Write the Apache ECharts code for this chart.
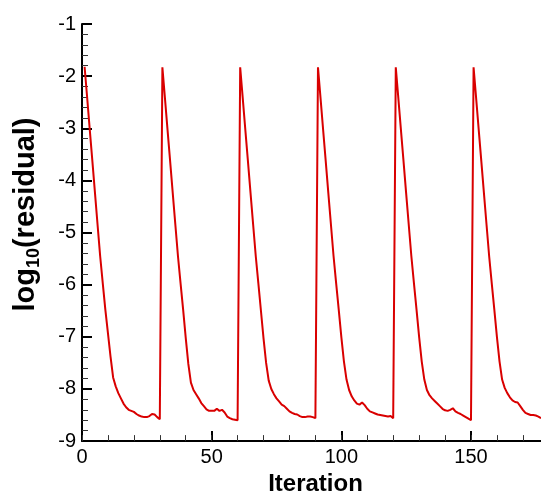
<!DOCTYPE html>
<html>
<head>
<meta charset="utf-8">
<script src="https://cdn.jsdelivr.net/npm/echarts@6/dist/echarts.min.js"></script>
<style>
html,body{margin:0;padding:0;background:#fff;}
#chart{width:541px;height:501px;}
</style>
</head>
<body>
<div id="chart"></div>
<script>
// First iteration of the recorded residual history
var firstIteration = 1;
// log10(residual) per iteration, six restart cycles of 30 iterations
var cycle1 = [-1.82,-2.42,-3.03,-3.63,-4.24,-4.85,-5.45,-5.97,-6.48,-6.93,
              -7.38,-7.78,-7.95,-8.08,-8.18,-8.28,-8.35,-8.40,-8.42,-8.44,
              -8.48,-8.51,-8.53,-8.54,-8.54,-8.52,-8.48,-8.49,-8.54,-8.58];
var cycle2 = [-1.83,-2.43,-3.04,-3.64,-4.25,-4.85,-5.45,-5.97,-6.48,-7.02,
              -7.52,-7.88,-8.02,-8.10,-8.18,-8.27,-8.33,-8.39,-8.42,-8.42,
              -8.42,-8.38,-8.42,-8.40,-8.45,-8.53,-8.56,-8.58,-8.59,-8.60];
var cycle3 = [-1.83,-2.43,-3.04,-3.64,-4.25,-4.85,-5.45,-5.97,-6.50,-7.03,
              -7.50,-7.84,-8.00,-8.10,-8.18,-8.24,-8.30,-8.33,-8.38,-8.43,
              -8.46,-8.48,-8.49,-8.52,-8.54,-8.54,-8.53,-8.53,-8.54,-8.56];
var cycle4 = [-1.83,-2.43,-3.04,-3.64,-4.25,-4.85,-5.45,-5.97,-6.48,-7.00,
              -7.47,-7.82,-8.02,-8.14,-8.22,-8.28,-8.30,-8.26,-8.31,-8.38,
              -8.43,-8.45,-8.47,-8.49,-8.50,-8.51,-8.52,-8.53,-8.52,-8.56];
var cycle5 = [-1.83,-2.43,-3.04,-3.64,-4.25,-4.85,-5.45,-5.97,-6.48,-7.00,
              -7.47,-7.82,-8.02,-8.12,-8.18,-8.23,-8.28,-8.33,-8.38,-8.41,
              -8.42,-8.40,-8.37,-8.43,-8.46,-8.48,-8.51,-8.54,-8.57,-8.60];
var cycle6 = [-1.83,-2.43,-3.04,-3.64,-4.25,-4.85,-5.45,-5.97,-6.48,-7.00,
              -7.47,-7.82,-7.98,-8.08,-8.16,-8.22,-8.25,-8.26,-8.33,-8.40,
              -8.46,-8.48,-8.50,-8.50,-8.51,-8.53,-8.56];

var xTitle = 'Iteration';
var yTitleParts = ['log', '10', '(residual)'];

var residual = [].concat(cycle1, cycle2, cycle3, cycle4, cycle5, cycle6);
var seriesData = residual.map(function (v, i) { return [firstIteration + i, v]; });

var chart = echarts.init(document.getElementById('chart'), null, {renderer: 'canvas'});
var axisFont = 'Liberation Sans, Arial, Helvetica, sans-serif';
var xMax = 177;

chart.setOption({
  animation: false,
  backgroundColor: '#ffffff',
  grid: {left: 82, right: 0, top: 24, bottom: 50, containLabel: false},
  xAxis: [{
    type: 'value',
    min: 0, max: xMax, interval: 50,
    name: xTitle,
    nameLocation: 'middle',
    nameGap: 26,
    nameTextStyle: {fontFamily: axisFont, fontSize: 24, fontWeight: 'bold', color: '#000', padding: [0, 0, 0, 8]},
    axisLine: {show: true, onZero: false, lineStyle: {color: '#000', width: 2}},
    axisTick: {show: true, inside: true, length: 10, lineStyle: {color: '#000', width: 2}},
    minorTick: {show: false},
    axisLabel: {fontFamily: axisFont, fontSize: 20, color: '#000', margin: 6, showMaxLabel: false},
    splitLine: {show: false}
  }, {
    type: 'value',
    position: 'bottom',
    min: 0, max: xMax, interval: 10,
    axisLine: {show: false, onZero: false},
    axisTick: {show: true, inside: true, length: 6, lineStyle: {color: '#333', width: 1}},
    axisLabel: {show: false},
    splitLine: {show: false}
  }],
  yAxis: {
    type: 'value',
    min: -9, max: -1, interval: 1,
    name: '{m|' + yTitleParts[0] + '}{s|' + yTitleParts[1] + '}{m|' + yTitleParts[2] + '}',
    nameLocation: 'middle',
    nameGap: 39,
    nameRotate: 90,
    nameTextStyle: {
      fontFamily: axisFont, fontSize: 29, fontWeight: 'bold', color: '#000',
      padding: [0, 0, 0, 36],
      rich: {
        m: {fontFamily: axisFont, fontSize: 29, fontWeight: 'bold', color: '#000', lineHeight: 32, verticalAlign: 'middle'},
        s: {fontFamily: axisFont, fontSize: 18, fontWeight: 'bold', color: '#000', lineHeight: 34, verticalAlign: 'bottom'}
      }
    },
    axisLine: {show: true, onZero: false, lineStyle: {color: '#000', width: 2}},
    axisTick: {show: true, inside: true, length: 10, lineStyle: {color: '#000', width: 2}},
    minorTick: {show: true, splitNumber: 5, length: 6, lineStyle: {color: '#333', width: 1}},
    axisLabel: {fontFamily: axisFont, fontSize: 20, color: '#000', margin: 6},
    splitLine: {show: false}
  },
  series: [{
    type: 'line',
    xAxisIndex: 0,
    data: seriesData,
    showSymbol: false,
    symbol: 'none',
    smooth: false,
    lineStyle: {color: '#d90000', width: 2},
    clip: true
  }]
});
</script>
</body>
</html>
